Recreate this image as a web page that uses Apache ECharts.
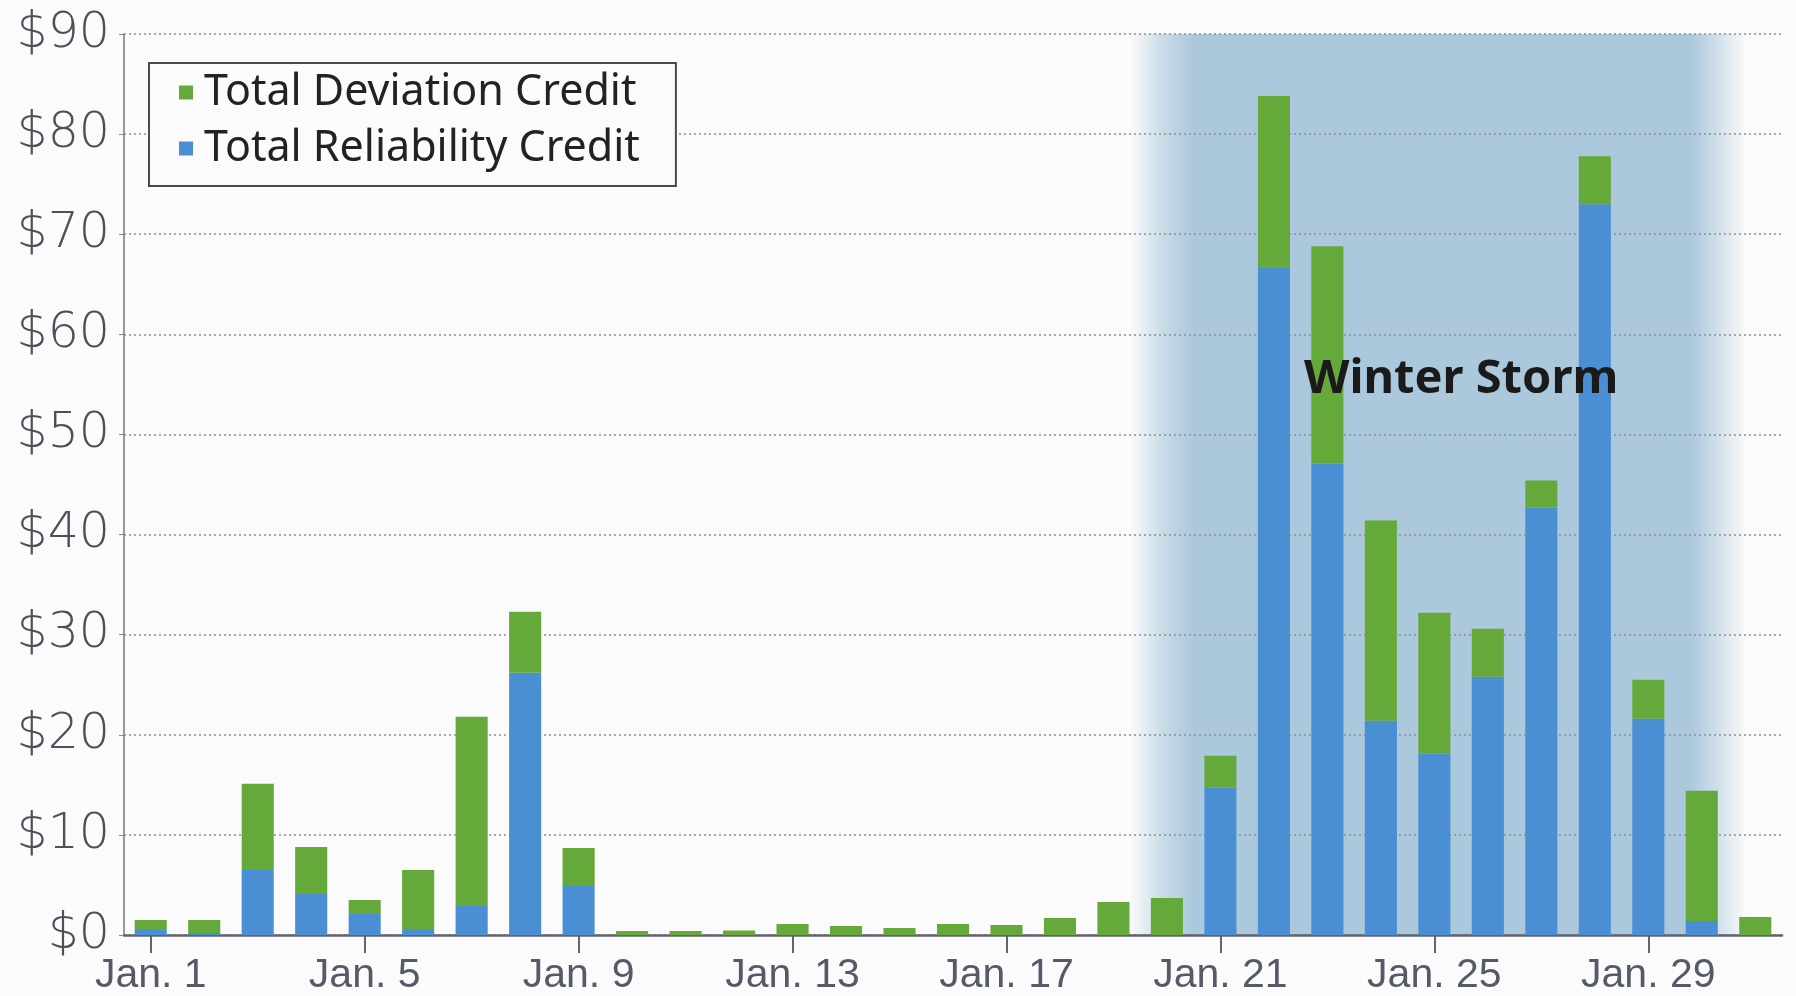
<!DOCTYPE html>
<html>
<head>
<meta charset="utf-8">
<script src="https://cdn.jsdelivr.net/npm/echarts@6/dist/echarts.min.js"></script>
<style>
  html, body { margin: 0; padding: 0; background: #fbfbfb; }
  #chart { width: 1796px; height: 996px; }
</style>
</head>
<body>
<div id="chart"></div>
<script>
// Daily credits for January, in dollars
const days = [];
for (let d = 1; d <= 31; d++) days.push('Jan. ' + d);

const reliabilityCredit = [
  0.5, 0.2, 6.5, 4.1, 2.1, 0.5, 2.9, 26.2, 4.9, 0, 0, 0, 0, 0, 0, 0,
  0, 0, 0, 0, 14.7, 66.7, 47.1, 21.4, 18.1, 25.8, 42.7, 73.0, 21.6, 1.4, 0
];
const deviationCredit = [
  1.0, 1.3, 8.6, 4.7, 1.4, 6.0, 18.9, 6.1, 3.8, 0.4, 0.4, 0.45, 1.1, 0.9, 0.7, 1.1,
  1.0, 1.7, 3.3, 3.7, 3.2, 17.1, 21.7, 20.0, 14.1, 4.8, 2.7, 4.8, 3.9, 13.0, 1.8
];
const yTicks = { min: 0, max: 90, step: 10 };

// Storm period shading (category indices)
const stormFadeInFrom = 18.3;
const stormSolidFrom = 19.5;
const stormSolidTo = 28.8;
const stormFadeOutTo = 29.85;
const stormLabel = 'Winter Storm';
const stormLabelAt = { index: 24.5, value: 55.5 };

const GREEN = '#66a93b';
const BLUE = '#4a8fd3';
const SHADE = '171,200,220';

const chart = echarts.init(document.getElementById('chart'), null, { renderer: 'canvas' });

chart.setOption({
  backgroundColor: '#fbfbfb',
  animation: false,
  grid: { left: 124, right: 14, top: 34, bottom: 60, containLabel: false },
  legend: {
    orient: 'vertical',
    left: 149,
    top: 63,
    data: ['Total Deviation Credit', 'Total Reliability Credit'],
    icon: 'rect',
    itemWidth: 14,
    itemHeight: 14,
    itemGap: 13,
    padding: [8, 36, 16, 30],
    borderColor: '#4a4a4a',
    borderWidth: 2,
    backgroundColor: '#fbfbfb',
    textStyle: {
      fontFamily: 'Noto Sans',
      fontSize: 43,
      color: '#222',
      padding: [0, 0, 0, 6]
    }
  },
  xAxis: {
    type: 'category',
    data: days,
    boundaryGap: true,
    axisLine: { show: true, lineStyle: { color: '#62636f', width: 2.5 } },
    axisTick: { show: true, interval: 3, alignWithLabel: true, length: 18, lineStyle: { color: '#666', width: 2 } },
    axisLabel: {
      interval: 3,
      margin: 20,
      fontFamily: 'Liberation Sans Narrow, Liberation Sans, sans-serif',
      fontSize: 41,
      color: '#555a68'
    },
    splitLine: { show: false }
  },
  yAxis: {
    type: 'value',
    min: yTicks.min,
    max: yTicks.max,
    interval: yTicks.step,
    axisLine: { show: true, lineStyle: { color: '#777', width: 1.5 } },
    axisTick: { show: true, length: 5, lineStyle: { color: '#888', width: 1 } },
    axisLabel: {
      margin: 14,
      fontFamily: 'DejaVu Sans',
      fontWeight: 200,
      fontSize: 49,
      color: '#4c5059',
      formatter: v => '$' + v
    },
    splitLine: { show: true, lineStyle: { color: '#8e8e8e', width: 1.5, type: [2, 3] } }
  },
  series: [
    {
      name: 'Total Reliability Credit',
      type: 'bar',
      stack: 'credit',
      barWidth: '60%',
      itemStyle: { color: BLUE },
      data: reliabilityCredit
    },
    {
      name: 'Total Deviation Credit',
      type: 'bar',
      stack: 'credit',
      barWidth: '60%',
      itemStyle: { color: GREEN },
      data: deviationCredit
    }
  ]
});

// Position the shading and the annotation from the axis scales
function catX(idx) {
  const lo = Math.floor(idx), hi = Math.ceil(idx);
  const xLo = chart.convertToPixel({ xAxisIndex: 0 }, days[lo]);
  const xHi = chart.convertToPixel({ xAxisIndex: 0 }, days[hi]);
  return xLo + (xHi - xLo) * (idx - lo);
}
function valY(v) { return chart.convertToPixel({ yAxisIndex: 0 }, v); }

const x0 = catX(stormFadeInFrom), x1 = catX(stormSolidFrom);
const x2 = catX(stormSolidTo), x3 = catX(stormFadeOutTo);
const yTop = valY(yTicks.max), yBot = valY(yTicks.min);
const w = x3 - x0;

chart.setOption({
  graphic: [
    {
      type: 'rect',
      z: -10,
      silent: true,
      shape: { x: x0, y: yTop, width: w, height: yBot - yTop },
      style: {
        fill: new echarts.graphic.LinearGradient(0, 0, 1, 0, [
          { offset: 0, color: 'rgba(' + SHADE + ',0)' },
          { offset: (x1 - x0) / w * 0.5, color: 'rgba(' + SHADE + ',0.6)' },
          { offset: (x1 - x0) / w, color: 'rgba(' + SHADE + ',1)' },
          { offset: (x2 - x0) / w, color: 'rgba(' + SHADE + ',1)' },
          { offset: 1, color: 'rgba(' + SHADE + ',0)' }
        ])
      }
    },
    {
      type: 'text',
      z: 100,
      silent: true,
      x: catX(stormLabelAt.index),
      y: valY(stormLabelAt.value),
      style: {
        text: stormLabel,
        fontFamily: 'Noto Sans',
        fontWeight: 'bold',
        fontSize: 47,
        fill: '#1a1a1a',
        align: 'center',
        verticalAlign: 'middle'
      }
    }
  ]
});
</script>
</body>
</html>
